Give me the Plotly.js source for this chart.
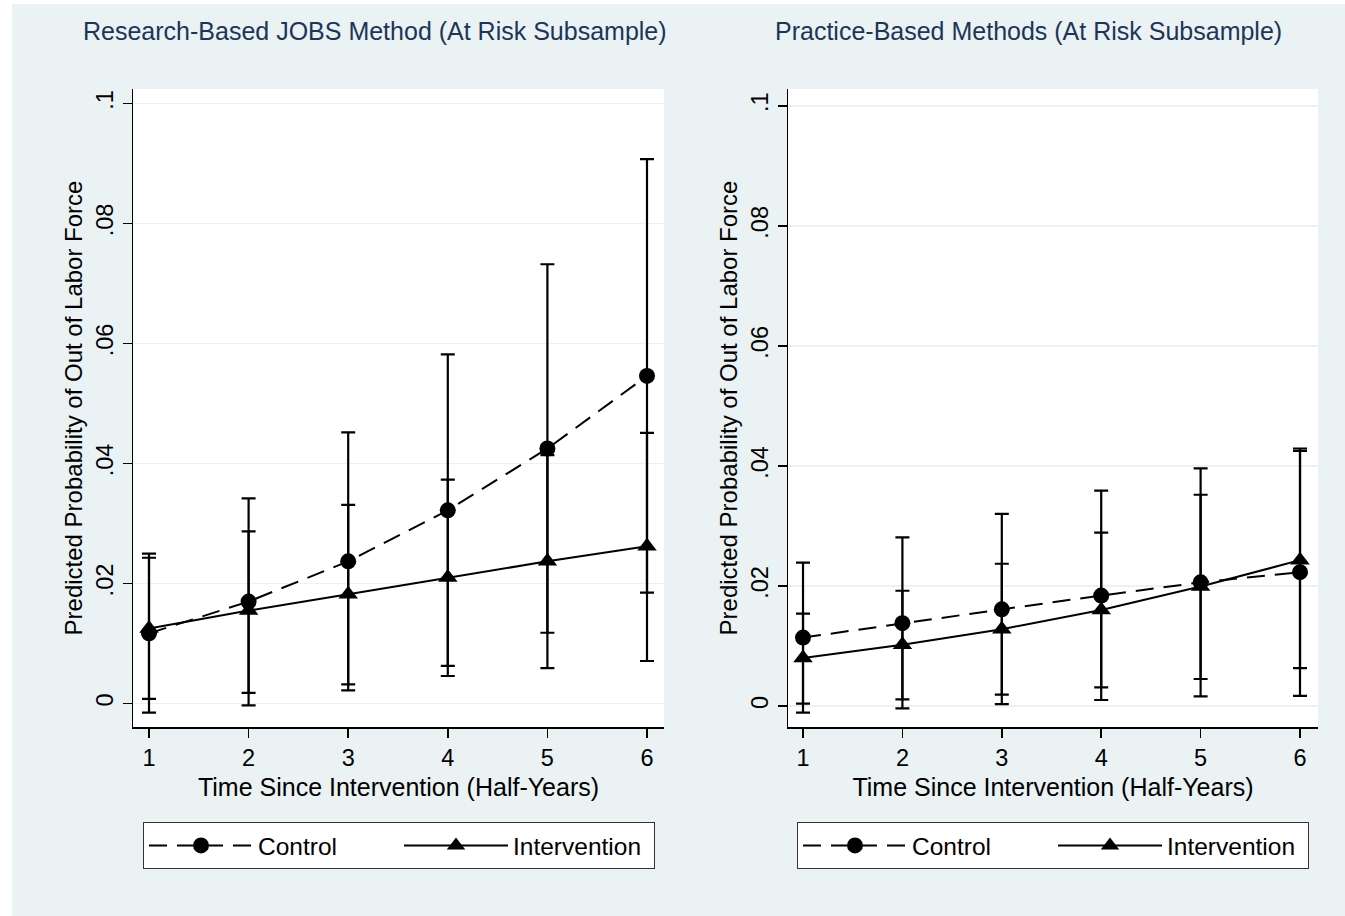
<!DOCTYPE html>
<html>
<head>
<meta charset="utf-8">
<script src="https://cdn.plot.ly/plotly-3.0.1.min.js"></script>
<style>
  html, body { margin: 0; padding: 0; background: #ffffff; }
  #chart { position: absolute; left: 12px; top: 4px; width: 1333px; height: 912px; }
</style>
</head>
<body>
<div id="chart"></div>
<script>
// ---------- data ----------
const timePoints = [1, 2, 3, 4, 5, 6];
const tickLabels = ["1", "2", "3", "4", "5", "6"];
const yTickVals = [0, 0.02, 0.04, 0.06, 0.08, 0.1];
const yTickText = ["0", ".02", ".04", ".06", ".08", ".1"];

// Panel 1: Research-Based JOBS Method
const jobsControl      = [0.0117, 0.0170, 0.0237, 0.0322, 0.0425, 0.0546];
const jobsControlHi    = [0.0250, 0.0342, 0.0452, 0.0582, 0.0732, 0.0907];
const jobsControlLo    = [-0.0015, -0.0003, 0.0022, 0.0063, 0.0118, 0.0185];
const jobsInterv       = [0.0125, 0.0155, 0.0182, 0.0210, 0.0237, 0.0262];
const jobsIntervHi     = [0.0243, 0.0287, 0.0331, 0.0373, 0.0414, 0.0451];
const jobsIntervLo     = [0.0008, 0.0018, 0.0032, 0.0046, 0.0059, 0.0071];

// Panel 2: Practice-Based Methods
const pracControl      = [0.0114, 0.0138, 0.0161, 0.0184, 0.0206, 0.0223];
const pracControlHi    = [0.0239, 0.0281, 0.0320, 0.0359, 0.0396, 0.0429];
const pracControlLo    = [-0.0011, -0.0004, 0.0003, 0.0010, 0.0016, 0.0017];
const pracInterv       = [0.0080, 0.0102, 0.0128, 0.0160, 0.0199, 0.0243];
const pracIntervHi     = [0.0154, 0.0192, 0.0237, 0.0289, 0.0352, 0.0425];
const pracIntervLo     = [0.0004, 0.0011, 0.0019, 0.0031, 0.0045, 0.0063];

const titles = ["Research-Based JOBS Method (At Risk Subsample)", "Practice-Based Methods (At Risk Subsample)"];
const xTitle = "Time Since Intervention (Half-Years)";
const yTitle = "Predicted Probability of Out of Labor Force";
const seriesNames = ["Control", "Intervention"];

// ---------- helpers ----------
const W = 1333, H = 912;
const px = v => v / W;           // pixel -> paper x
const py = v => 1 - v / H;       // pixel (from top) -> paper y
const FONT = "Liberation Sans, Arial, Helvetica, sans-serif";
const BG = "#EAF2F3";

function diff(a, b) { return a.map((v, i) => v - b[i]); }

function mkTrace(y, hi, lo, name, isControl, xa, ya, legend) {
  return {
    x: timePoints, y: y, name: name, type: "scatter", mode: "lines+markers",
    xaxis: xa, yaxis: ya, legend: legend, showlegend: true,
    line: { color: "#000000", width: 2, dash: isControl ? "18px,10px" : "solid" },
    marker: { color: "#000000", size: isControl ? 16 : 17, symbol: isControl ? "circle" : "triangle-up" },
    error_y: { type: "data", symmetric: false, array: diff(hi, y), arrayminus: diff(y, lo),
               color: "#000000", thickness: 2.2, width: 7 },
    cliponaxis: false
  };
}

const data = [
  mkTrace(jobsControl, jobsControlHi, jobsControlLo, seriesNames[0], true,  "x",  "y",  "legend"),
  mkTrace(jobsInterv,  jobsIntervHi,  jobsIntervLo,  seriesNames[1], false, "x",  "y",  "legend"),
  mkTrace(pracControl, pracControlHi, pracControlLo, seriesNames[0], true,  "x2", "y2", "legend2"),
  mkTrace(pracInterv,  pracIntervHi,  pracIntervLo,  seriesNames[1], false, "x2", "y2", "legend2")
];

function xAxis(domain, range, anchor) {
  return {
    domain: domain, range: range, anchor: anchor,
    tickmode: "array", tickvals: timePoints, ticktext: tickLabels,
    ticks: "outside", ticklen: 9, tickwidth: 1.5, tickcolor: "#000",
    showline: true, linecolor: "#000", linewidth: 1.5, mirror: false,
    showgrid: false, zeroline: false,
    tickfont: { family: FONT, size: 23.5, color: "#000" },
    title: { text: xTitle, font: { family: FONT, size: 25, color: "#000" }, standoff: 9 },
    automargin: false, fixedrange: true
  };
}
function yAxis(domain, range, anchor) {
  return {
    domain: domain, range: range, anchor: anchor,
    tickmode: "array", tickvals: yTickVals, ticktext: yTickText, tickangle: -90,
    ticks: "outside", ticklen: 9, tickwidth: 1.5, tickcolor: "#000",
    showline: true, linecolor: "#000", linewidth: 1.5, mirror: false,
    showgrid: true, gridcolor: BG, gridwidth: 1.5, zeroline: false,
    tickfont: { family: FONT, size: 23.5, color: "#000" },
    title: { text: yTitle, font: { family: FONT, size: 24, color: "#000" }, standoff: 2 },
    automargin: false, fixedrange: true
  };
}

const yDom = [py(723), py(85)];

function legendCfg(leftPx) {
  return {
    orientation: "h", x: px(leftPx), y: py(818), xanchor: "left", yanchor: "top",
    bgcolor: "#ffffff", bordercolor: "#333333", borderwidth: 1,
    font: { family: FONT, size: 24.5, color: "#000" },
    itemwidth: 104, entrywidth: 136, entrywidthmode: "pixels",
    traceorder: "normal", itemclick: false, itemdoubleclick: false
  };
}

const layout = {
  width: W, height: H,
  paper_bgcolor: BG, plot_bgcolor: "#ffffff",
  margin: { l: 0, r: 0, t: 0, b: 0, pad: 0 },
  showlegend: true,
  xaxis: xAxis([px(121), px(652)], [0.8394, 6.1707], "y"),
  yaxis: yAxis(yDom, [-0.0039, 0.1024], "x"),
  xaxis2: xAxis([px(776), px(1306)], [0.849, 6.181], "y2"),
  yaxis2: yAxis(yDom, [-0.0035, 0.1028], "x2"),
  legend: legendCfg(131),
  legend2: legendCfg(785),
  annotations: [
    { text: titles[0], xref: "paper", yref: "paper", x: px(363), y: py(27), xanchor: "center", yanchor: "middle",
      showarrow: false, font: { family: FONT, size: 25, color: "#1C3558" } },
    { text: titles[1], xref: "paper", yref: "paper", x: px(1017), y: py(27), xanchor: "center", yanchor: "middle",
      showarrow: false, font: { family: FONT, size: 25, color: "#1C3558" } }
  ]
};

Plotly.newPlot("chart", data, layout, { displayModeBar: false, staticPlot: true });
</script>
</body>
</html>
